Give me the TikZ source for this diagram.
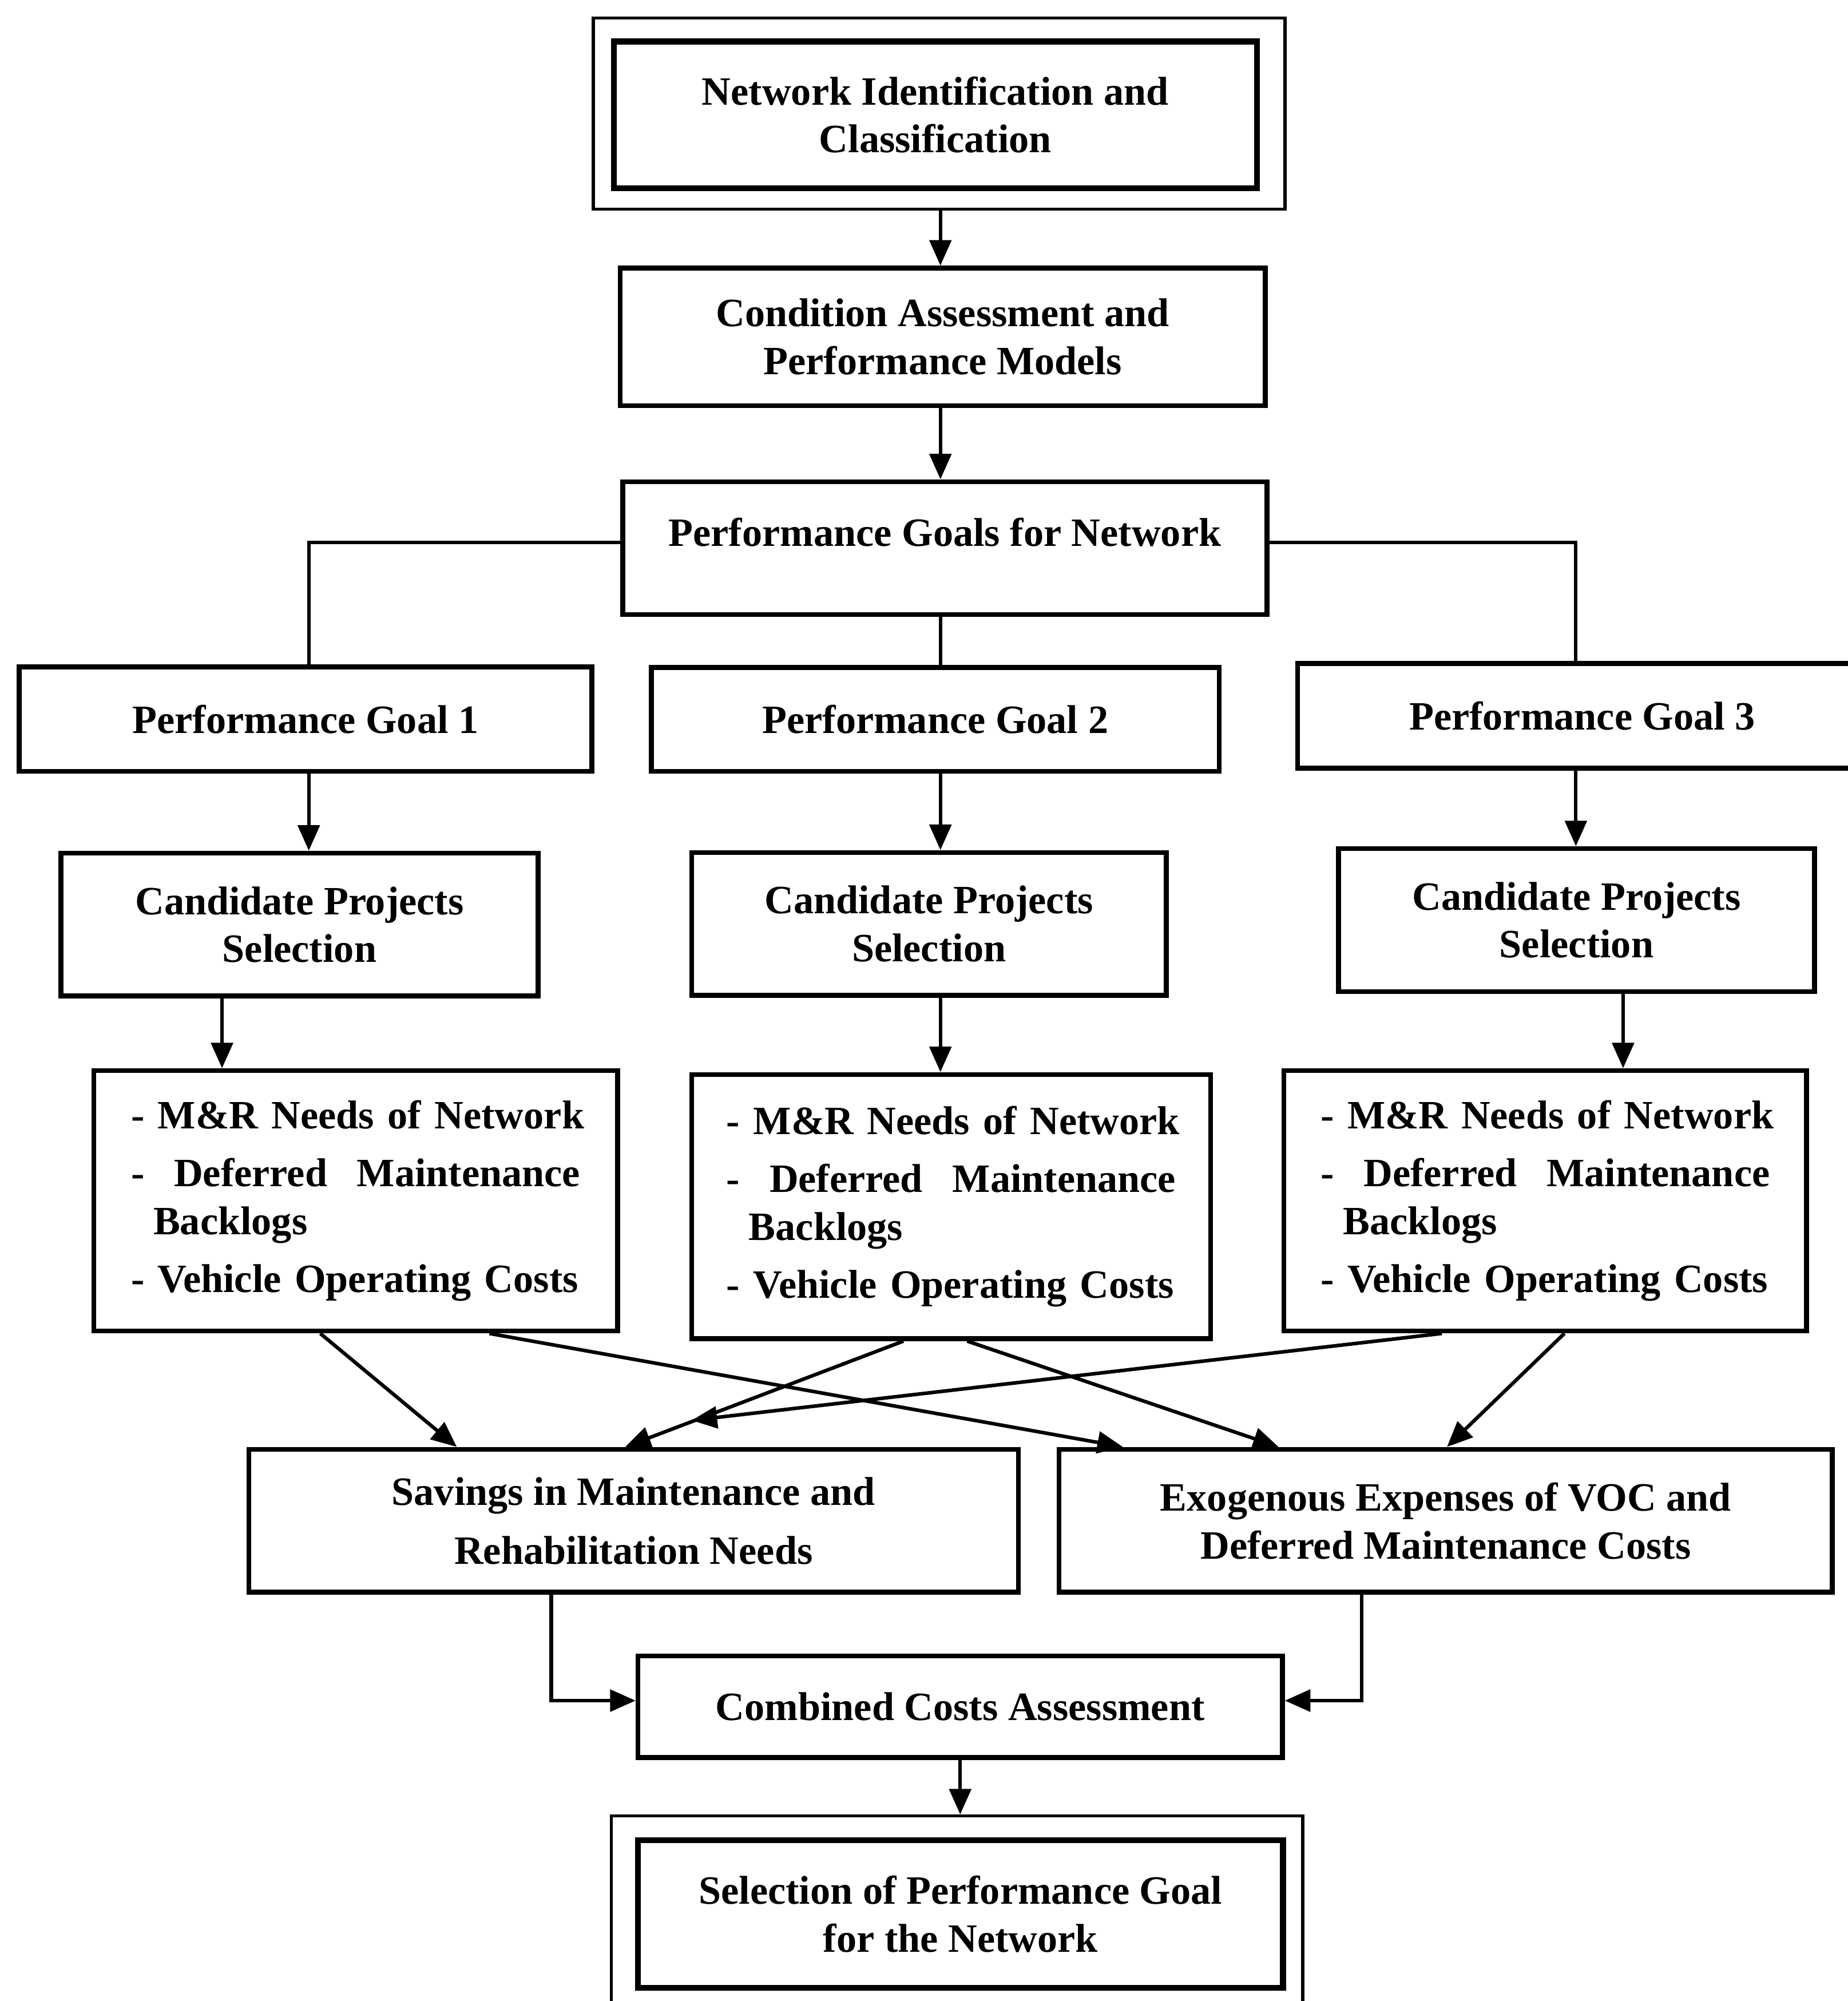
\documentclass[tikz,border=0pt]{standalone}
\usepackage{fontspec}
\setmainfont{Liberation Serif}
\usetikzlibrary{arrows.meta}
\newcommand{\mrlist}{\mbox{- M\&R Needs of Network}\\[8pt]\makebox[352pt][s]{-\hfill Deferred\hfill Maintenance}\\\mbox{\hspace*{17.5pt}Backlogs}\\[8pt]\mbox{- Vehicle Operating Costs}}
\begin{document}
\begin{tikzpicture}[x=1pt,y=-1pt,
  box/.style={draw, line width=3.8pt, inner sep=0pt, align=center, font=\bfseries\fontsize{31.5}{37.5}\selectfont},
  thickbox/.style={box, line width=4.6pt},
  frame/.style={draw, line width=2.4pt, inner sep=0pt},
  listbox/.style={box, text width=352pt, align=left},
  conn/.style={line width=2.8pt},
  arr/.style={conn, -{Triangle[length=20pt,width=17pt]}},
]
\useasboundingbox (0,0) rectangle (1448,1568);

% boxes
\node[frame, minimum width=542pt, minimum height=149.5pt] (n1o) at (736,89) {};
\node[thickbox, minimum width=504pt, minimum height=115pt] (n1) at (733,90) {Network Identification and\\Classification};
\node[box, minimum width=505.5pt, minimum height=108pt] (n2) at (738.75,264) {Condition Assessment and\\Performance Models};
\node[box, minimum width=505pt, minimum height=104pt, text height=22pt, text depth=25pt] (n3) at (740.5,429.5) {Performance Goals for Network};

\node[box, minimum width=448.7pt, minimum height=82pt] (pg1) at (239.4,563.5) {Performance Goal 1};
\node[box, minimum width=445pt, minimum height=81.5pt] (pg2) at (733,563.7) {Performance Goal 2};
\node[box, minimum width=446pt, minimum height=82pt] (pg3) at (1240,561) {Performance Goal 3};

\node[box, minimum width=374pt, minimum height=112pt] (cp1) at (234.7,724.5) {Candidate Projects\\Selection};
\node[box, minimum width=372pt, minimum height=112pt] (cp2) at (728,724) {Candidate Projects\\Selection};
\node[box, minimum width=373pt, minimum height=112pt] (cp3) at (1235.5,721) {Candidate Projects\\Selection};

\node[listbox, minimum width=410.5pt, minimum height=204pt] (l1) at (278.7,941) {\mrlist};
\node[listbox, minimum width=406.7pt, minimum height=207pt] (l2) at (745.4,945.5) {\mrlist};
\node[listbox, minimum width=409.5pt, minimum height=204pt] (l3) at (1211,941) {\mrlist};

\node[box, minimum width=603pt, minimum height=112pt] (sav) at (496.5,1191.7) {Savings in Maintenance and\\[8.5pt]Rehabilitation Needs};
\node[box, minimum width=606pt, minimum height=112pt] (exo) at (1133,1191.7) {Exogenous Expenses of VOC and\\Deferred Maintenance Costs};
\node[box, minimum width=505pt, minimum height=79.6pt] (comb) at (752.5,1337.4) {Combined Costs Assessment};
\node[frame, minimum width=542pt, minimum height=167pt] (fo) at (750,1506.5) {};
\node[thickbox, minimum width=505.5pt, minimum height=115.7pt] (fin) at (752.75,1499.9) {Selection of Performance Goal\\for the Network};

% connectors
\coordinate (cx) at (737,0);
\draw[arr] (cx |- n1o.south) -- (cx |- n2.north);
\draw[arr] (cx |- n2.south) -- (cx |- n3.north);
\coordinate (c1) at (242,425);
\coordinate (c3) at (1235,425);
\draw[conn] (n3.west |- c1) -- (c1) -- (c1 |- pg1.north);
\draw[conn] (n3.east |- c3) -- (c3) -- (c3 |- pg3.north);
\draw[conn] (cx |- n3.south) -- (cx |- pg2.north);
\draw[arr] (c1 |- pg1.south) -- (c1 |- cp1.north);
\draw[arr] (cx |- pg2.south) -- (cx |- cp2.north);
\draw[arr] (c3 |- pg3.south) -- (c3 |- cp3.north);
\coordinate (d1) at (174,0);
\coordinate (d3) at (1272,0);
\draw[arr] (d1 |- cp1.south) -- (d1 |- l1.north);
\draw[arr] (cx |- cp2.south) -- (cx |- l2.north);
\draw[arr] (d3 |- cp3.south) -- (d3 |- l3.north);

\draw[arr] ([xshift=-27.7pt]l1.south) -- ([xshift=-138.5pt]sav.north);
\draw[arr] ([xshift=104.8pt]l1.south) -- ([xshift=-253pt]exo.north);
\draw[arr] ([xshift=-37.4pt]l2.south) -- ([xshift=-6.5pt]sav.north);
\draw[arr] ([xshift=12.6pt]l2.south) -- ([xshift=-131pt]exo.north);
\coordinate (free) at (542,1113);
\draw[arr] ([xshift=-81pt]l3.south) -- (free);
\draw[arr] ([xshift=15pt]l3.south) -- ([xshift=1pt]exo.north);

\draw[arr] ([xshift=-64.5pt]sav.south) |- ([yshift=4.8pt]comb.west);
\draw[arr] ([xshift=-66pt]exo.south) |- ([yshift=4.8pt]comb.east);
\draw[arr] (comb.south) -- (comb.south |- fo.north);
\end{tikzpicture}
\end{document}
